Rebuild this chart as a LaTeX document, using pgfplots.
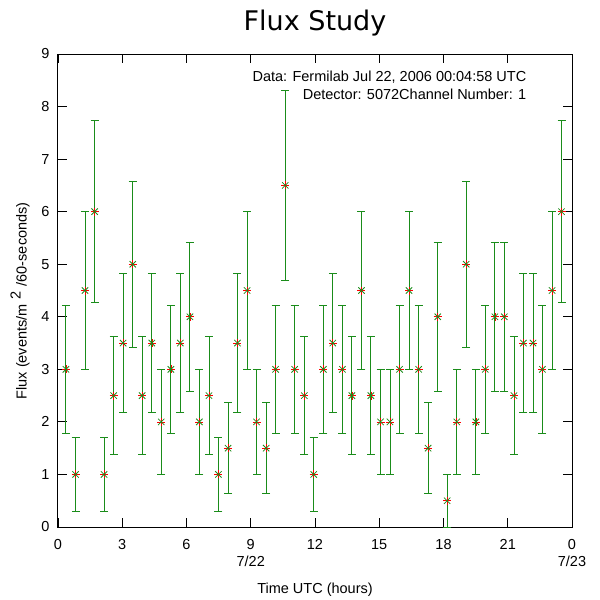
\documentclass[border=0pt]{standalone}
\usepackage{pgfplots}
\usepackage{pgfplotstable}
\usepackage{fontspec}
\pgfplotsset{compat=1.18}
\setmainfont{Liberation Sans}
\newfontfamily\titlefont{DejaVu Sans}
\definecolor{fgreen}{RGB}{26,140,26}

% flux per bin: time (h), value, error
\pgfplotstableread{
t v e
0.37 3.0 1.225
0.82 1.0 0.707
1.26 4.5 1.5
1.71 6.0 1.732
2.15 1.0 0.707
2.60 2.5 1.118
3.04 3.5 1.323
3.49 5.0 1.581
3.93 2.5 1.118
4.38 3.5 1.323
4.82 2.0 1.0
5.27 3.0 1.225
5.71 3.5 1.323
6.16 4.0 1.414
6.60 2.0 1.0
7.05 2.5 1.118
7.49 1.0 0.707
7.94 1.5 0.866
8.38 3.5 1.323
8.83 4.5 1.5
9.27 2.0 1.0
9.72 1.5 0.866
10.16 3.0 1.225
10.61 6.5 1.803
11.05 3.0 1.225
11.50 2.5 1.118
11.94 1.0 0.707
12.39 3.0 1.225
12.83 3.5 1.323
13.28 3.0 1.225
13.72 2.5 1.118
14.17 4.5 1.5
14.61 2.5 1.118
15.06 2.0 1.0
15.50 2.0 1.0
15.95 3.0 1.225
16.39 4.5 1.5
16.84 3.0 1.225
17.28 1.5 0.866
17.73 4.0 1.414
18.17 0.5 0.5
18.62 2.0 1.0
19.06 5.0 1.581
19.51 2.0 1.0
19.95 3.0 1.225
20.40 4.0 1.414
20.84 4.0 1.414
21.29 2.5 1.118
21.73 3.5 1.323
22.18 3.5 1.323
22.62 3.0 1.225
23.07 4.5 1.5
23.51 6.0 1.732
}\flux

\begin{document}
\begin{tikzpicture}[x=1pt,y=1pt]
\useasboundingbox (0,0) rectangle (600,600);
\begin{axis}[at={(58pt,73pt)}, anchor=south west,
  width=514pt, height=473pt, scale only axis,
  xmin=0, xmax=24, ymin=0, ymax=9,
  xtick={0,3,...,24}, ytick={0,1,...,9},
  xticklabels={0,3,6,{9\\7/22},12,15,18,21,{0\\7/23}},
  tick align=inside, tick pos=both, major tick length=9pt,
  tick style={black, line width=0.8pt},
  axis line style={black, line width=1pt},
  /pgf/number format/assume math mode=true,
  tick label style={font=\fontsize{14.5}{17}\selectfont},
  xticklabel style={align=center, yshift=-9pt},
  yticklabel style={xshift=-5pt},
  label style={font=\fontsize{14.5}{17}\selectfont},
  xlabel={Time UTC (hours)},
  xlabel style={at={(axis description cs:0.5,-0.133)}, anchor=center},
  ylabel={Flux (events/m\hspace{5pt}\raisebox{6pt}{2}\hspace{5pt}/60-seconds)},
  ylabel style={at={(axis description cs:-0.074,0.478)}, anchor=center},
  title={\titlefont\fontsize{27}{30}\selectfont Flux Study},
  title style={at={(axis description cs:0.5,1)}, anchor=base, yshift=18pt},
  clip=false]
\addplot[only marks, mark=+, red, mark size=4pt, line width=0.6pt,
  error bars/.cd, y dir=both, y explicit,
  error bar style={fgreen, line width=0.9pt},
  error mark=-,
  error mark options={rotate=90, fgreen, mark size=4pt, line width=0.9pt}]
  table[x=t, y=v, y error=e]{\flux};
\addplot[only marks, mark=x, fgreen, mark size=4.5pt, line width=0.8pt]
  table[x=t, y=v]{\flux};
\node[anchor=base east, font=\fontsize{14.5}{17}\selectfont] at (rel axis cs:0.918,0.941) {Data: Fermilab Jul 22, 2006 00:04:58 UTC};
\node[anchor=base east, font=\fontsize{14.5}{17}\selectfont] at (rel axis cs:0.918,0.903) {Detector: 5072Channel Number: 1};
\end{axis}
\end{tikzpicture}
\end{document}
